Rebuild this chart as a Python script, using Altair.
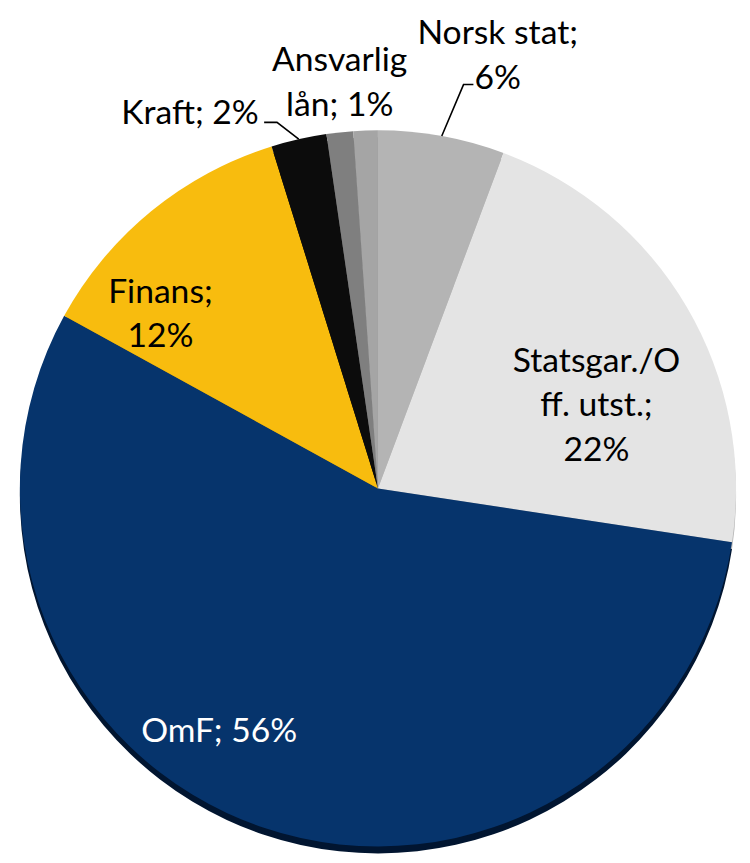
import math
import altair as alt
import pandas as pd

# ---- data ----
categories = ["Norsk stat", "Statsgar./Off. utst.", "OmF", "Finans", "Kraft", "Ansvarlig lån", "Annet"]
values = [5.7, 21.7, 55.6, 12.2, 2.5, 1.2, 1.1]
label_texts = ["Norsk stat;\n6%", "Statsgar./O\nff. utst.;\n22%", "OmF; 56%", "Finans;\n12%",
               "Kraft; 2%", "Ansvarlig\nlån; 1%", ""]

# ---- styles ----
fill_colors = ["#b4b4b4", "#e4e4e4", "#06346c", "#f8bc0e", "#0c0c0c", "#7f7f7f", "#a5a5a5"]
side_colors = ["#8c8c8c", "#b5b5b5", "#011530", "#a87f05", "#000000", "#555555", "#777777"]
label_colors = ["black", "black", "white", "black", "black", "black", "black"]

W, H = 742, 847
CX, CY = 374, 481          # pie centre in view coordinates
R = 362
SIDE = 7                   # depth of the 3D rim
FONT_SIZE = 34
LINE_H = 45

# label layout: polar (angle deg clockwise from north, radius px) of the block centre
label_layout = {
    "Norsk stat": (15.5, 453),
    "Statsgar./Off. utst.": (69.4, 236),
    "OmF": (213.1, 294),
    "Finans": (308.5, 281),
    "Kraft": (333.3, 423),
    "Ansvarlig lån": (354.6, 411),
}
# leader lines: offsets of elbow and end from the slice edge point
leader_layout = {
    "Norsk stat": [(22, -52), (32, -52)],
    "Kraft": [(-22, -17), (-35, -17)],
}

df = pd.DataFrame({
    "category": categories,
    "value": values,
    "order": list(range(len(categories))),
    "fill": fill_colors,
    "side": side_colors,
})

total = sum(values)
cum = 0.0
mids = {}
for c, v in zip(categories, values):
    mids[c] = (cum + v / 2) / total * 360.0
    cum += v


def polar(ang, r):
    a = math.radians(ang)
    return CX + r * math.sin(a), CY - r * math.cos(a)


lab_rows = []
for c, t, col in zip(categories, label_texts, label_colors):
    if not t:
        continue
    ang, r = label_layout[c]
    x, y = polar(ang, r)
    n = t.count("\n")
    lab_rows.append({"category": c, "text": t, "color": col, "lx": x, "ly": y - n * LINE_H / 2})
labels = pd.DataFrame(lab_rows)

lead_rows = []
for c, offs in leader_layout.items():
    sx, sy = polar(mids[c], R)
    lead_rows.append({"leader": c, "pt": 0, "px": sx, "py": sy})
    for i, (dx, dy) in enumerate(offs, start=1):
        lead_rows.append({"leader": c, "pt": i, "px": sx + dx, "py": sy + dy})
leaders = pd.DataFrame(lead_rows)

base = alt.Chart(df).encode(
    theta=alt.Theta("value:Q", stack=True),
    order=alt.Order("order:Q"),
)

rim = base.mark_arc(outerRadius=R).encode(
    color=alt.Color("side:N", scale=None),
    x=alt.value(CX),
    y=alt.value(CY + SIDE),
)

pie = base.mark_arc(outerRadius=R).encode(
    color=alt.Color("fill:N", scale=None),
    x=alt.value(CX),
    y=alt.value(CY),
)

leader_lines = alt.Chart(leaders).mark_line(color="black", strokeWidth=1.6).encode(
    x=alt.X("px:Q", scale=None),
    y=alt.Y("py:Q", scale=None),
    detail="leader:N",
    order="pt:Q",
)

text = alt.Chart(labels).mark_text(
    font="Lato", fontSize=FONT_SIZE, lineBreak="\n", lineHeight=LINE_H,
    align="center", baseline="middle",
).encode(
    x=alt.X("lx:Q", scale=None),
    y=alt.Y("ly:Q", scale=None),
    text="text:N",
    color=alt.Color("color:N", scale=None),
)

chart = alt.layer(rim, pie, leader_lines, text).properties(
    width=W, height=H,
    padding=0,
    autosize=alt.AutoSizeParams(type="none"),
).configure_view(stroke=None)

chart.save("out.html", embed_options={"renderer": "svg", "actions": False})
